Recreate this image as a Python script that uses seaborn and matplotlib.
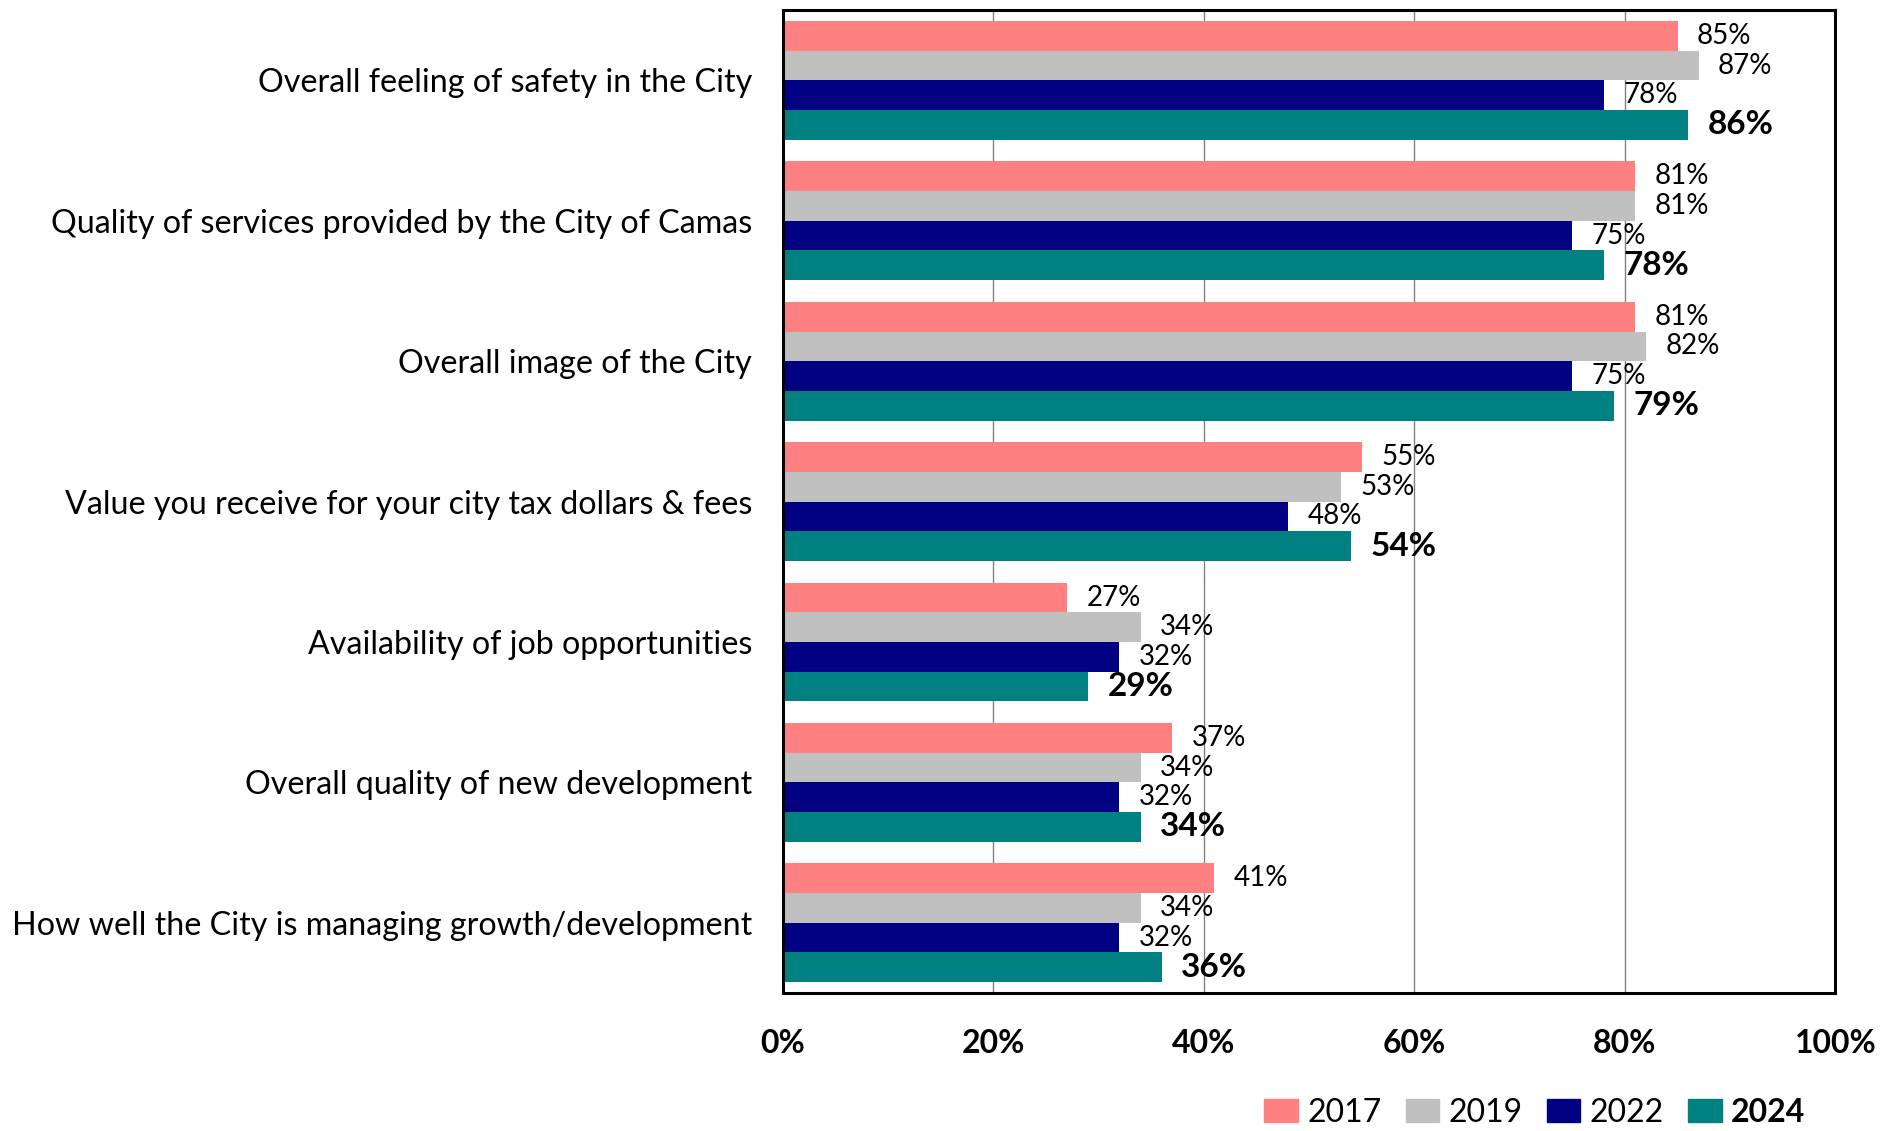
import pandas as pd
import seaborn as sns
import matplotlib.pyplot as plt
from matplotlib.ticker import PercentFormatter

# Dados (percentual de avaliações positivas)
categories = [
    'Overall feeling of safety in the City',
    'Quality of services provided by the City of Camas',
    'Overall image of the City',
    'Value you receive for your city tax dollars & fees',
    'Availability of job opportunities',
    'Overall quality of new development',
    'How well the City is managing growth/development',
]
years = ['2017', '2019', '2022', '2024']
vals_2017 = [85, 81, 81, 55, 27, 37, 41]
vals_2019 = [87, 81, 82, 53, 34, 34, 34]
vals_2022 = [78, 75, 75, 48, 32, 32, 32]
vals_2024 = [86, 78, 79, 54, 29, 34, 36]
colors = ['#FF8080', '#C0C0C0', '#000080', '#008080']

rows = []
for year, vals in zip(years, [vals_2017, vals_2019, vals_2022, vals_2024]):
    for cat, v in zip(categories, vals):
        rows.append({'category': cat, 'year': year, 'value': v})
df = pd.DataFrame(rows)

sns.set_style('white')
plt.rcParams['font.family'] = ['Lato', 'DejaVu Sans']
plt.rcParams['text.color'] = 'black'
plt.rcParams['xtick.color'] = 'black'
plt.rcParams['ytick.color'] = 'black'

fig = plt.figure(figsize=(19.04, 11.31), dpi=100)
ax = fig.add_axes([0.411, 0.122, 0.553, 0.869])

sns.barplot(data=df, x='value', y='category', hue='year', order=categories,
            hue_order=years, palette=colors, orient='h', width=0.845,
            saturation=1, ax=ax, edgecolor='none', legend=False)

# Rótulos dos valores
for i, cont in enumerate(ax.containers):
    if i == 3:
        ax.bar_label(cont, labels=[f'{v:.0f}%' for v in cont.datavalues],
                     padding=14, fontsize=24, fontweight='bold')
    else:
        ax.bar_label(cont, labels=[f'{v:.0f}%' for v in cont.datavalues],
                     padding=14, fontsize=20)

ax.set_xlim(0, 100)
ax.set_ylim(6.5, -0.5)
ax.xaxis.set_major_formatter(PercentFormatter(decimals=0))
ax.set_xticks([0, 20, 40, 60, 80, 100])
ax.grid(axis='x', color='#808080', linewidth=1)
ax.set_axisbelow(True)
ax.set_xlabel('')
ax.set_ylabel('')
ax.tick_params(axis='x', length=0, pad=26, labelsize=23)
ax.tick_params(axis='y', length=0, pad=22, labelsize=23.2)
for lab in ax.get_xticklabels():
    lab.set_fontweight('bold')
for sp in ax.spines.values():
    sp.set_visible(True)
    sp.set_color('black')
    sp.set_linewidth(2.2)

# Legenda no canto inferior direito
handles = [plt.Rectangle((0, 0), 1, 1, color=c) for c in colors]
leg = fig.legend(handles, years, loc='center right', bbox_to_anchor=(0.955, 0.016),
                 ncol=4, frameon=False, fontsize=23, handlelength=1.05,
                 handleheight=0.75, handletextpad=0.3, columnspacing=0.75,
                 borderaxespad=0)
leg.get_texts()[3].set_fontweight('bold')

fig.savefig('out.png', dpi=100)
